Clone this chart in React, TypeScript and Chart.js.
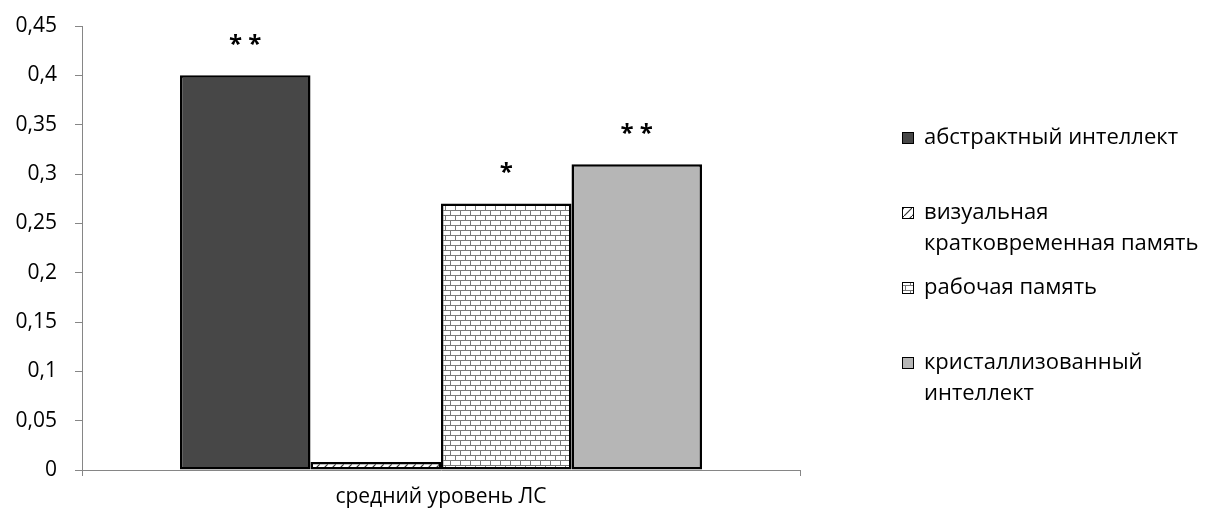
import React, { useEffect, useRef } from "react";
import { Chart, registerables } from "chart.js";

Chart.register(...registerables);

const categories = ["средний уровень ЛС"];
const seriesNames = [
  "абстрактный интеллект",
  "визуальная\nкратковременная память",
  "рабочая память",
  "кристаллизованный\nинтеллект",
];
const seriesValues = [0.4, 0.008, 0.27, 0.31];
const significance = ["**", "", "*", "**"];
const yTickLabels = ["0", "0,05", "0,1", "0,15", "0,2", "0,25", "0,3", "0,35", "0,4", "0,45"];

const FONT = "'Open Sans', 'DejaVu Sans', sans-serif";

function makeHatch(): CanvasPattern | string {
  const c = document.createElement("canvas");
  c.width = 8;
  c.height = 8;
  const g = c.getContext("2d");
  if (!g) return "#fff";
  g.fillStyle = "#ffffff";
  g.fillRect(0, 0, 8, 8);
  g.strokeStyle = "#333333";
  g.lineWidth = 1.2;
  g.beginPath();
  g.moveTo(-1, 9);
  g.lineTo(9, -1);
  g.stroke();
  return g.createPattern(c, "repeat") || "#fff";
}

function makeBrick(): CanvasPattern | string {
  const c = document.createElement("canvas");
  c.width = 10;
  c.height = 10;
  const g = c.getContext("2d");
  if (!g) return "#fff";
  g.fillStyle = "#ffffff";
  g.fillRect(0, 0, 10, 10);
  g.fillStyle = "#7a7a7a";
  g.fillRect(0, 0, 10, 1);
  g.fillRect(0, 5, 10, 1);
  g.fillRect(0, 0, 1, 5);
  g.fillRect(5, 5, 1, 5);
  return g.createPattern(c, "repeat") || "#fff";
}

export default function App() {
  const ref = useRef<HTMLCanvasElement | null>(null);

  useEffect(() => {
    document.body.style.margin = "0";
    const canvas = ref.current;
    if (!canvas) return;
    const fills: (string | CanvasPattern)[] = ["#474747", makeHatch(), makeBrick(), "#b6b6b6"];

    const starPlugin = {
      id: "stars",
      afterDatasetsDraw(chart: any) {
        const ctx = chart.ctx;
        ctx.save();
        ctx.font = `bold 24px ${FONT}`;
        ctx.fillStyle = "#000";
        ctx.textAlign = "center";
        ctx.textBaseline = "middle";
        chart.data.datasets.forEach((_: any, i: number) => {
          const meta = chart.getDatasetMeta(i);
          const el = meta.data[0];
          if (!el || !significance[i]) return;
          ctx.fillText(significance[i].split("").join(" "), el.x, el.y - 30);
        });
        ctx.restore();
      },
    };

    const legendPlugin = {
      id: "customLegend",
      afterDraw(chart: any) {
        const ctx = chart.ctx;
        ctx.save();
        ctx.font = `22px ${FONT}`;
        ctx.textBaseline = "middle";
        ctx.textAlign = "left";
        const x0 = chart.chartArea.right + 102;
        seriesNames.forEach((name, i) => {
          const y = 138 + i * 75;
          ctx.fillStyle = fills[i];
          ctx.fillRect(x0, y - 6, 12, 12);
          ctx.strokeStyle = "#000";
          ctx.lineWidth = 1;
          ctx.strokeRect(x0 + 0.5, y - 5.5, 11, 11);
          ctx.fillStyle = "#000";
          name.split("\n").forEach((line, j) => {
            ctx.fillText(line, x0 + 22, y + j * 31);
          });
        });
        ctx.restore();
      },
    };

    const chart = new Chart(canvas, {
      type: "bar",
      data: {
        labels: categories,
        datasets: seriesNames.map((name, i) => ({
          label: name,
          data: [seriesValues[i]],
          backgroundColor: fills[i] as any,
          borderColor: "#000000",
          borderWidth: 2.5,
          borderSkipped: false,
          categoryPercentage: 0.727,
          barPercentage: 1,
        })),
      },
      options: {
        animation: false,
        responsive: false,
        maintainAspectRatio: false,
        layout: { padding: { top: 0, right: 405, left: 0, bottom: 0 } },
        plugins: { legend: { display: false }, tooltip: { enabled: false } },
        scales: {
          x: {
            grid: { display: true, drawOnChartArea: false, offset: true, tickLength: 6, color: "#868686" },
            border: { color: "#868686", width: 1 },
            ticks: { color: "#000", font: { family: FONT, size: 21 }, padding: 8 },
            afterFit(scale: any) {
              scale.height = 44;
            },
          },
          y: {
            min: 0,
            max: 0.45,
            grid: { display: true, drawOnChartArea: false, tickLength: 7, color: "#868686" },
            border: { color: "#868686", width: 1 },
            ticks: {
              stepSize: 0.05,
              color: "#000",
              padding: 18,
              font: { family: FONT, size: 21, lineHeight: 1 },
              callback: (_v: any, idx: number) => yTickLabels[idx],
            },
            afterFit(scale: any) {
              scale.width = 82;
              scale.paddingTop = 26;
            },
          },
        },
      },
      plugins: [starPlugin, legendPlugin],
    });
    return () => chart.destroy();
  }, []);

  return (
    <div style={{ width: 1205, height: 514, background: "#fff" }}>
      <canvas ref={ref} width={1205} height={514} style={{ display: "block" }} />
    </div>
  );
}
